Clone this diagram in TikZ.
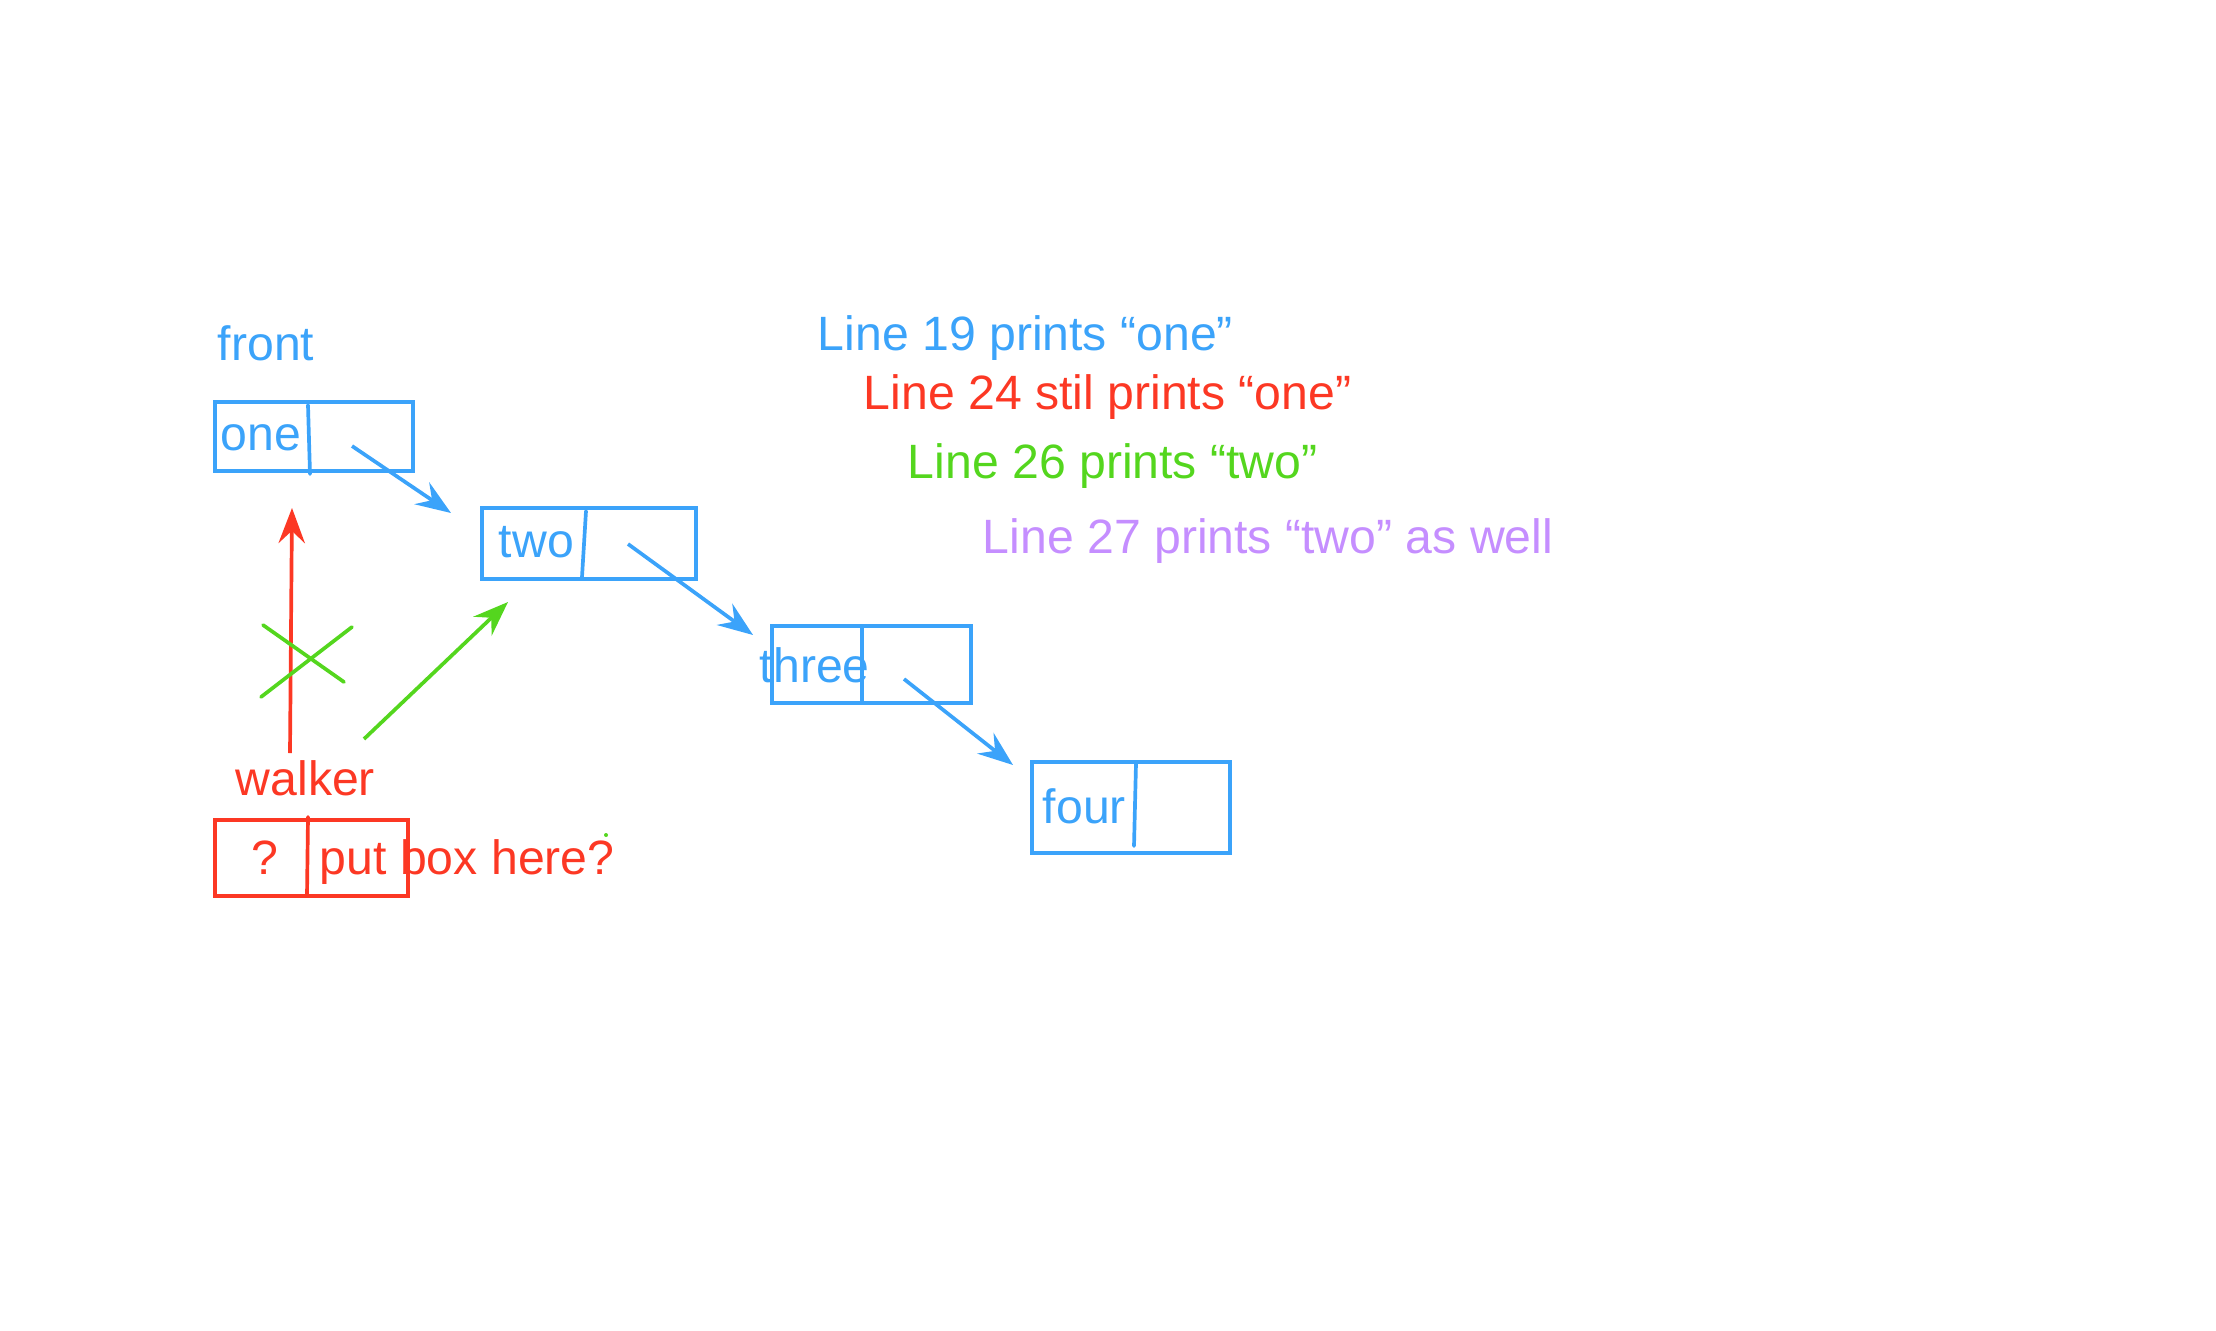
\documentclass[tikz,border=0pt]{standalone}
\usepackage{fontspec}
\setmainfont{Liberation Sans}
\usepackage{tikz}
\usetikzlibrary{arrows.meta}
\definecolor{noteblue}{RGB}{59,163,250}
\definecolor{notered}{RGB}{252,56,36}
\definecolor{notegreen}{RGB}{84,214,30}
\definecolor{notepurple}{RGB}{197,142,255}
\tikzset{>={Stealth[length=10pt,width=7.5pt,inset=3.5pt]}}
\tikzset{cell/.style={draw,inner sep=0,outer sep=0},
  lbl/.style={anchor=base west,inner sep=0,font=\fontsize{13.7pt}{16pt}\selectfont}}

\begin{document}
\begin{tikzpicture}[x=0.01cm,y=-0.01cm,line width=1.05pt]
        \useasboundingbox (0,0) rectangle (2216,1330);
        % the list
        \node[cell,noteblue,minimum width=1.98cm,minimum height=0.69cm] (one) at (314,436.5) {};
        \node[cell,noteblue,minimum width=2.14cm,minimum height=0.71cm] (two) at (589,543.5) {};
        \node[cell,noteblue,minimum width=1.99cm,minimum height=0.77cm] (three) at (871.5,664.5) {};
        \node[cell,noteblue,minimum width=1.98cm,minimum height=0.91cm] (four) at (1131,807.5) {};
        \node[cell,notered,minimum width=1.93cm,minimum height=0.76cm] (walkerbox) at (311.5,858) {};
        \node[lbl,noteblue] (front) at (216,360) {front};
        \node[lbl,noteblue] (onetext) at (219,450) {one};
        \node[lbl,noteblue] (twotext) at (497,557) {two};
        \node[lbl,noteblue] (threetext) at (758,682) {three};
        \node[lbl,noteblue] (fourtext) at (1041,823) {four};
        \node[lbl,notered] (walker) at (234,795) {walker};
        \node[lbl,notered] (qmark) at (250,874) {?};
        \node[lbl,notered] (boxhere) at (318,874) {put box here?};
        \node[lbl,noteblue] (line19) at (816,350) {Line 19 prints “one”};
        \node[lbl,notered] (line24) at (862,409) {Line 24 stil prints “one”};
        \node[lbl,notegreen] (line26) at (906,478) {Line 26 prints “two”};
        \node[lbl,notepurple] (line27) at (981,553) {Line 27 prints “two” as well};
        % dividers
        \draw[noteblue,line cap=round] (308,405) -- (310,474);
        \draw[noteblue,line cap=round] (586,511) -- (582,577);
        \draw[noteblue] (862,627) -- (862,701);
        \draw[noteblue,line cap=round] (1136,763) -- (1134,846);
        \draw[notered,line cap=round] (308,817) -- (307,896);
        % next pointers
        \coordinate (onenext) at (352,446);   \coordinate (twoin) at (451,513);
        \coordinate (twonext) at (628,544);   \coordinate (threein) at (753,635);
        \coordinate (threenext) at (904,679); \coordinate (fourin) at (1013,765);
        \draw[noteblue,->] (onenext) -- (twoin);
        \draw[noteblue,->] (twonext) -- (threein);
        \draw[noteblue,->] (threenext) -- (fourin);
        % walker
        \coordinate (oldfrom) at (290,753); \coordinate (oldto) at (292,508);
        \coordinate (newfrom) at (364,739); \coordinate (newto) at (508,602);
        \draw[notered,->] (oldfrom) -- (oldto);
        \draw[notegreen,->] (newfrom) -- (newto);
        \draw[notegreen,line cap=round] (263,625) -- (344,682);
        \draw[notegreen,line cap=round] (261,697) -- (352,627);
        \fill[notegreen] (606,835) circle (2);
\end{tikzpicture}
\end{document}
